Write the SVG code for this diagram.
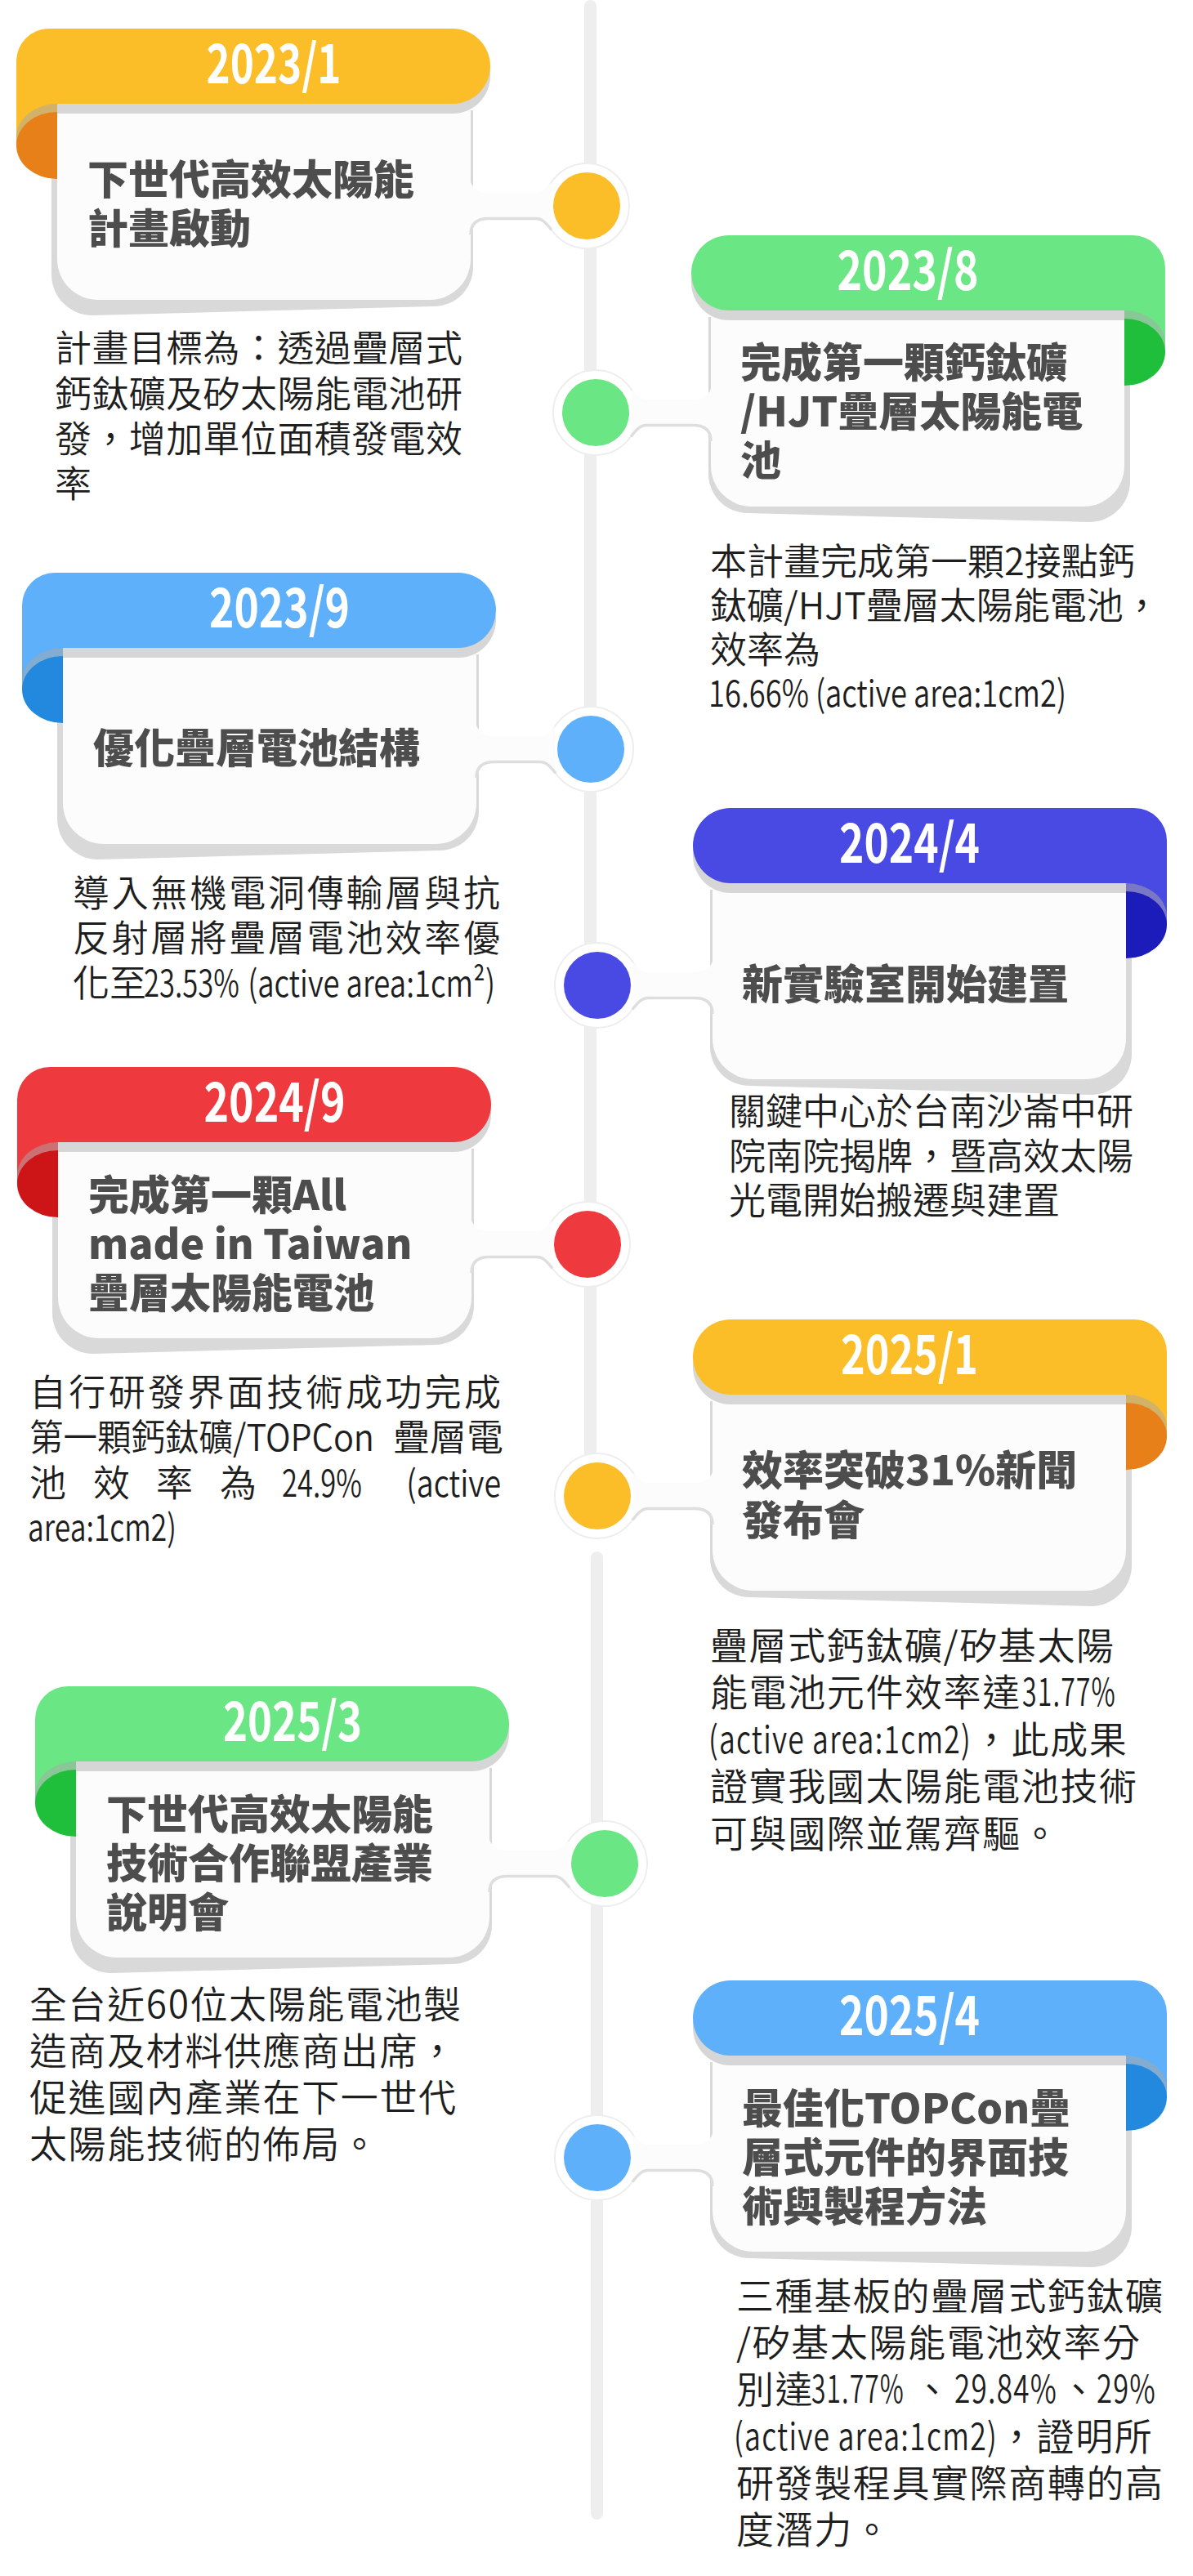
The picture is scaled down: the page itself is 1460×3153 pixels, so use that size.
<svg xmlns="http://www.w3.org/2000/svg" width="1460" height="3153" viewBox="0 0 1460 3153">
<defs>
<style>
.yr{font-family:"Noto Sans CJK TC","Noto Sans",sans-serif;font-weight:700;font-size:66px;fill:#ffffff;text-anchor:middle}
.tt{font-family:"Noto Sans CJK TC","Noto Sans CJK SC",sans-serif;font-weight:900;font-size:50px;fill:#4d4d4d}
.ds{font-family:"Noto Sans CJK TC","Noto Sans CJK SC",sans-serif;font-weight:350;font-size:45px;fill:#1e1e1e}
.ds2{font-family:"Noto Sans CJK TC","Noto Sans CJK SC",sans-serif;font-weight:350;font-size:46px;letter-spacing:1.6px;fill:#1e1e1e}
.ln{stroke:#eeeeee;stroke-width:15;stroke-linecap:round}
.halo{fill:#ffffff;stroke:#eeeeee;stroke-width:2}
.neck{fill:#fcfcfc}
.nk{fill:none;stroke:#dedede;stroke-width:3.5}
</style>
<g id="base">
<path fill="#d9d9d9" d="M43,100 L559,100 L559,292 A48,48 0 0 1 511,340 L93,351 A50,50 0 0 1 43,301 Z"/>
<path fill="#fcfcfc" d="M50,92 L556,92 L556,282 A50,50 0 0 1 506,332 L100,332 A50,50 0 0 1 50,282 Z"/>
<path fill="#d6d6d6" d="M50,12 L534,12 A46,46 0 0 1 534,104 L50,104 Z"/>
</g>
<path id="hdr" d="M0,143 L0,40 A40,40 0 0 1 40,0 L534,0 A46,46 0 0 1 534,92 L50,92 L50,143 Z"/>
<path id="fsh" fill="#a8a8a8" fill-opacity="0.5" d="M50,92 A50,41 0 0 0 50,174 Z"/>
<path id="fold" d="M50,102 A50,41 0 0 0 50,184 Z"/>
</defs>
<rect width="1460" height="3153" fill="#ffffff"/>

<g id="timeline">
<line class="ln" x1="722.5" y1="7.5" x2="722.5" y2="1870"/>
<line class="ln" x1="730.5" y1="1906.5" x2="730.5" y2="3076.5"/>
</g>

<g id="node-2023-1">
<g transform="translate(20,35)"><use href="#base"/><use href="#hdr" fill="#fbbd28"/><use href="#fsh"/><use href="#fold" fill="#e8801a"/></g>
<text class="yr" x="335" y="102" textLength="165" lengthAdjust="spacingAndGlyphs">2023/1</text>
<text class="tt" x="107" y="238">下世代高效太陽能</text>
<text class="tt" x="107" y="298">計畫啟動</text>
<text class="ds" x="67" y="443" textLength="499">計畫目標為：透過疊層式</text>
<text class="ds" x="67" y="499" textLength="499">鈣鈦礦及矽太陽能電池研</text>
<text class="ds" x="67" y="554" textLength="499">發，增加單位面積發電效</text>
<text class="ds" x="67" y="609">率</text>
<circle class="halo" cx="718" cy="252" r="52"/><circle cx="718" cy="252" r="41" fill="#fbbd28"/>
</g>

<g id="node-2023-8">
<g transform="translate(1426,288) scale(-1,1)"><use href="#base"/><use href="#hdr" fill="#6be684"/><use href="#fsh"/><use href="#fold" fill="#1fbf3b"/></g>
<text class="yr" x="1111" y="355" textLength="173" lengthAdjust="spacingAndGlyphs">2023/8</text>
<text class="tt" x="906" y="462">完成第一顆鈣鈦礦</text>
<text class="tt" x="906" y="522">/HJT疊層太陽能電</text>
<text class="tt" x="906" y="582">池</text>
<text class="ds" x="869" y="704">本計畫完成第一顆2接點鈣</text>
<text class="ds" x="869" y="758">鈦礦/HJT疊層太陽能電池，</text>
<text class="ds" x="869" y="812">效率為</text>
<text class="ds" x="867" y="865" textLength="438" lengthAdjust="spacingAndGlyphs">16.66% (active area:1cm2)</text>
<circle class="halo" cx="729" cy="505" r="52"/><circle cx="729" cy="505" r="41" fill="#6be684"/>
</g>

<g id="node-2023-9">
<g transform="translate(27,701)"><use href="#base"/><use href="#hdr" fill="#5fb0fa"/><use href="#fsh"/><use href="#fold" fill="#2389df"/></g>
<text class="yr" x="342" y="768" textLength="172" lengthAdjust="spacingAndGlyphs">2023/9</text>
<text class="tt" x="114" y="934">優化疊層電池結構</text>
<text class="ds" x="89" y="1110" textLength="523">導入無機電洞傳輸層與抗</text>
<text class="ds" x="89" y="1165" textLength="523">反射層將疊層電池效率優</text>
<text class="ds" x="89" y="1220"><tspan>化至</tspan><tspan x="176" textLength="117" lengthAdjust="spacingAndGlyphs">23.53%</tspan><tspan x="295" textLength="311" lengthAdjust="spacingAndGlyphs"> (active area:1cm²)</tspan></text>
<circle class="halo" cx="723" cy="917" r="52"/><circle cx="723" cy="917" r="41" fill="#5fb0fa"/>
</g>

<g id="node-2024-4">
<g transform="translate(1428,989) scale(-1,1)"><use href="#base"/><use href="#hdr" fill="#4949e4"/><use href="#fsh"/><use href="#fold" fill="#1c1cbb"/></g>
<text class="yr" x="1113" y="1056" textLength="172" lengthAdjust="spacingAndGlyphs">2024/4</text>
<text class="tt" x="908" y="1223">新實驗室開始建置</text>
<text class="ds" x="892" y="1377">關鍵中心於台南沙崙中研</text>
<text class="ds" x="892" y="1432">院南院揭牌，暨高效太陽</text>
<text class="ds" x="892" y="1486">光電開始搬遷與建置</text>
<circle class="halo" cx="731" cy="1206" r="52"/><circle cx="731" cy="1206" r="41" fill="#4949e4"/>
</g>

<g id="node-2024-9">
<g transform="translate(21,1306)"><use href="#base"/><use href="#hdr" fill="#ee3a3e"/><use href="#fsh"/><use href="#fold" fill="#cd1417"/></g>
<text class="yr" x="336" y="1373" textLength="173" lengthAdjust="spacingAndGlyphs">2024/9</text>
<text class="tt" x="108" y="1481">完成第一顆All</text>
<text class="tt" x="108" y="1541">made in Taiwan</text>
<text class="tt" x="108" y="1601">疊層太陽能電池</text>
<text class="ds" x="36" y="1721" textLength="577">自行研發界面技術成功完成</text>
<text class="ds" x="36" y="1776"><tspan textLength="422" lengthAdjust="spacingAndGlyphs">第一顆鈣鈦礦/TOPCon</tspan><tspan x="471"> 疊層電</tspan></text>
<text class="ds" y="1832"><tspan x="36">池 </tspan><tspan x="114">效 </tspan><tspan x="191">率 </tspan><tspan x="269">為 </tspan><tspan x="345" textLength="98" lengthAdjust="spacingAndGlyphs">24.9%</tspan><tspan x="489" textLength="124" lengthAdjust="spacingAndGlyphs"> (active</tspan></text>
<text class="ds" x="34" y="1886" textLength="182" lengthAdjust="spacingAndGlyphs">area:1cm2)</text>
<circle class="halo" cx="719" cy="1523" r="52"/><circle cx="719" cy="1523" r="41" fill="#ee3a3e"/>
</g>

<g id="node-2025-1">
<g transform="translate(1428,1615) scale(-1,1)"><use href="#base"/><use href="#hdr" fill="#fbbd28"/><use href="#fsh"/><use href="#fold" fill="#e8801a"/></g>
<text class="yr" x="1113" y="1682" textLength="168" lengthAdjust="spacingAndGlyphs">2025/1</text>
<text class="tt" x="908" y="1818">效率突破31%新聞</text>
<text class="tt" x="908" y="1879">發布會</text>
<text class="ds2" x="869" y="2031">疊層式鈣鈦礦/矽基太陽</text>
<text class="ds2" x="869" y="2088"><tspan>能電池元件效率達</tspan><tspan x="1251" textLength="115" lengthAdjust="spacingAndGlyphs">31.77%</tspan></text>
<text class="ds2" x="867" y="2146"><tspan textLength="322" lengthAdjust="spacingAndGlyphs">(active area:1cm2)</tspan><tspan x="1190">，此成果</tspan></text>
<text class="ds2" x="869" y="2203">證實我國太陽能電池技術</text>
<text class="ds2" x="869" y="2261">可與國際並駕齊驅。</text>
<circle class="halo" cx="731" cy="1831" r="52"/><circle cx="731" cy="1831" r="41" fill="#fbbd28"/>
</g>

<g id="node-2025-3">
<g transform="translate(43,2064)"><use href="#base"/><use href="#hdr" fill="#6be684"/><use href="#fsh"/><use href="#fold" fill="#1fbf3b"/></g>
<text class="yr" x="358" y="2131" textLength="170" lengthAdjust="spacingAndGlyphs">2025/3</text>
<text class="tt" x="130" y="2239">下世代高效太陽能</text>
<text class="tt" x="130" y="2299">技術合作聯盟產業</text>
<text class="tt" x="130" y="2359">說明會</text>
<text class="ds2" x="36" y="2470">全台近60位太陽能電池製</text>
<text class="ds2" x="36" y="2527">造商及材料供應商出席，</text>
<text class="ds2" x="36" y="2584">促進國內產業在下一世代</text>
<text class="ds2" x="36" y="2641">太陽能技術的佈局。</text>
<circle class="halo" cx="740" cy="2281" r="52"/><circle cx="740" cy="2281" r="41" fill="#6be684"/>
</g>

<g id="node-2025-4">
<g transform="translate(1428,2424) scale(-1,1)"><use href="#base"/><use href="#hdr" fill="#5fb0fa"/><use href="#fsh"/><use href="#fold" fill="#2389df"/></g>
<text class="yr" x="1113" y="2491" textLength="172" lengthAdjust="spacingAndGlyphs">2025/4</text>
<text class="tt" x="908" y="2599">最佳化TOPCon疊</text>
<text class="tt" x="908" y="2659">層式元件的界面技</text>
<text class="tt" x="908" y="2719">術與製程方法</text>
<text class="ds2" x="901" y="2827">三種基板的疊層式鈣鈦礦</text>
<text class="ds2" x="901" y="2884">/矽基太陽能電池效率分</text>
<text class="ds2" x="901" y="2941"><tspan>別達</tspan><tspan x="993" textLength="114" lengthAdjust="spacingAndGlyphs">31.77%</tspan><tspan x="1106"> 、</tspan><tspan x="1168" textLength="126" lengthAdjust="spacingAndGlyphs">29.84%</tspan><tspan x="1297">、</tspan><tspan x="1342" textLength="73" lengthAdjust="spacingAndGlyphs">29%</tspan></text>
<text class="ds2" x="898" y="2999"><tspan textLength="323" lengthAdjust="spacingAndGlyphs">(active area:1cm2)</tspan><tspan x="1221">，證明所</tspan></text>
<text class="ds2" x="901" y="3056">研發製程具實際商轉的高</text>
<text class="ds2" x="901" y="3113">度潛力。</text>
<circle class="halo" cx="731" cy="2641" r="52"/><circle cx="731" cy="2641" r="41" fill="#5fb0fa"/>
</g>

<g id="connectors">
<path class="neck" d="M574,214 C576,230 584,236 598,236 L656,236 C664,236 668,230 674,224 L674,280 C668,274 664,267 656,267 L598,267 C584,267 576,272 574,288 Z"/>
<path class="nk" d="M576,287 C576,273 584,267.5 598,267.5 L656,267.5 C664,267.5 669,274 675,281.5"/>
<path class="neck" d="M872,467 C870,483 862,489 848,489 L791,489 C783,489 779,483 773,477 L773,533 C779,527 783,520 791,520 L848,520 C862,520 870,525 872,541 Z"/>
<path class="nk" d="M870,540 C870,526 862,520.5 848,520.5 L791,520.5 C783,520.5 778,527 772,534.5"/>
<path class="neck" d="M581,879 C583,895 591,901 605,901 L661,901 C669,901 673,895 679,889 L679,945 C673,939 669,932 661,932 L605,932 C591,932 583,937 581,953 Z"/>
<path class="nk" d="M583,952 C583,938 591,932.5 605,932.5 L661,932.5 C669,932.5 674,939 680,946.5"/>
<path class="neck" d="M874,1168 C872,1184 864,1190 850,1190 L793,1190 C785,1190 781,1184 775,1178 L775,1234 C781,1228 785,1221 793,1221 L850,1221 C864,1221 872,1226 874,1242 Z"/>
<path class="nk" d="M872,1241 C872,1227 864,1221.5 850,1221.5 L793,1221.5 C785,1221.5 780,1228 774,1235.5"/>
<path class="neck" d="M575,1485 C577,1501 585,1507 599,1507 L657,1507 C665,1507 669,1501 675,1495 L675,1551 C669,1545 665,1538 657,1538 L599,1538 C585,1538 577,1543 575,1559 Z"/>
<path class="nk" d="M577,1558 C577,1544 585,1538.5 599,1538.5 L657,1538.5 C665,1538.5 670,1545 676,1552.5"/>
<path class="neck" d="M874,1793 C872,1809 864,1815 850,1815 L793,1815 C785,1815 781,1809 775,1803 L775,1859 C781,1853 785,1846 793,1846 L850,1846 C864,1846 872,1851 874,1867 Z"/>
<path class="nk" d="M872,1866 C872,1852 864,1846.5 850,1846.5 L793,1846.5 C785,1846.5 780,1853 774,1860.5"/>
<path class="neck" d="M597,2243 C599,2259 607,2265 621,2265 L678,2265 C686,2265 690,2259 696,2253 L696,2309 C690,2303 686,2296 678,2296 L621,2296 C607,2296 599,2301 597,2317 Z"/>
<path class="nk" d="M599,2316 C599,2302 607,2296.5 621,2296.5 L678,2296.5 C686,2296.5 691,2303 697,2310.5"/>
<path class="neck" d="M874,2603 C872,2619 864,2625 850,2625 L793,2625 C785,2625 781,2619 775,2613 L775,2669 C781,2663 785,2656 793,2656 L850,2656 C864,2656 872,2661 874,2677 Z"/>
<path class="nk" d="M872,2676 C872,2662 864,2656.5 850,2656.5 L793,2656.5 C785,2656.5 780,2663 774,2670.5"/>
</g>
</svg>
